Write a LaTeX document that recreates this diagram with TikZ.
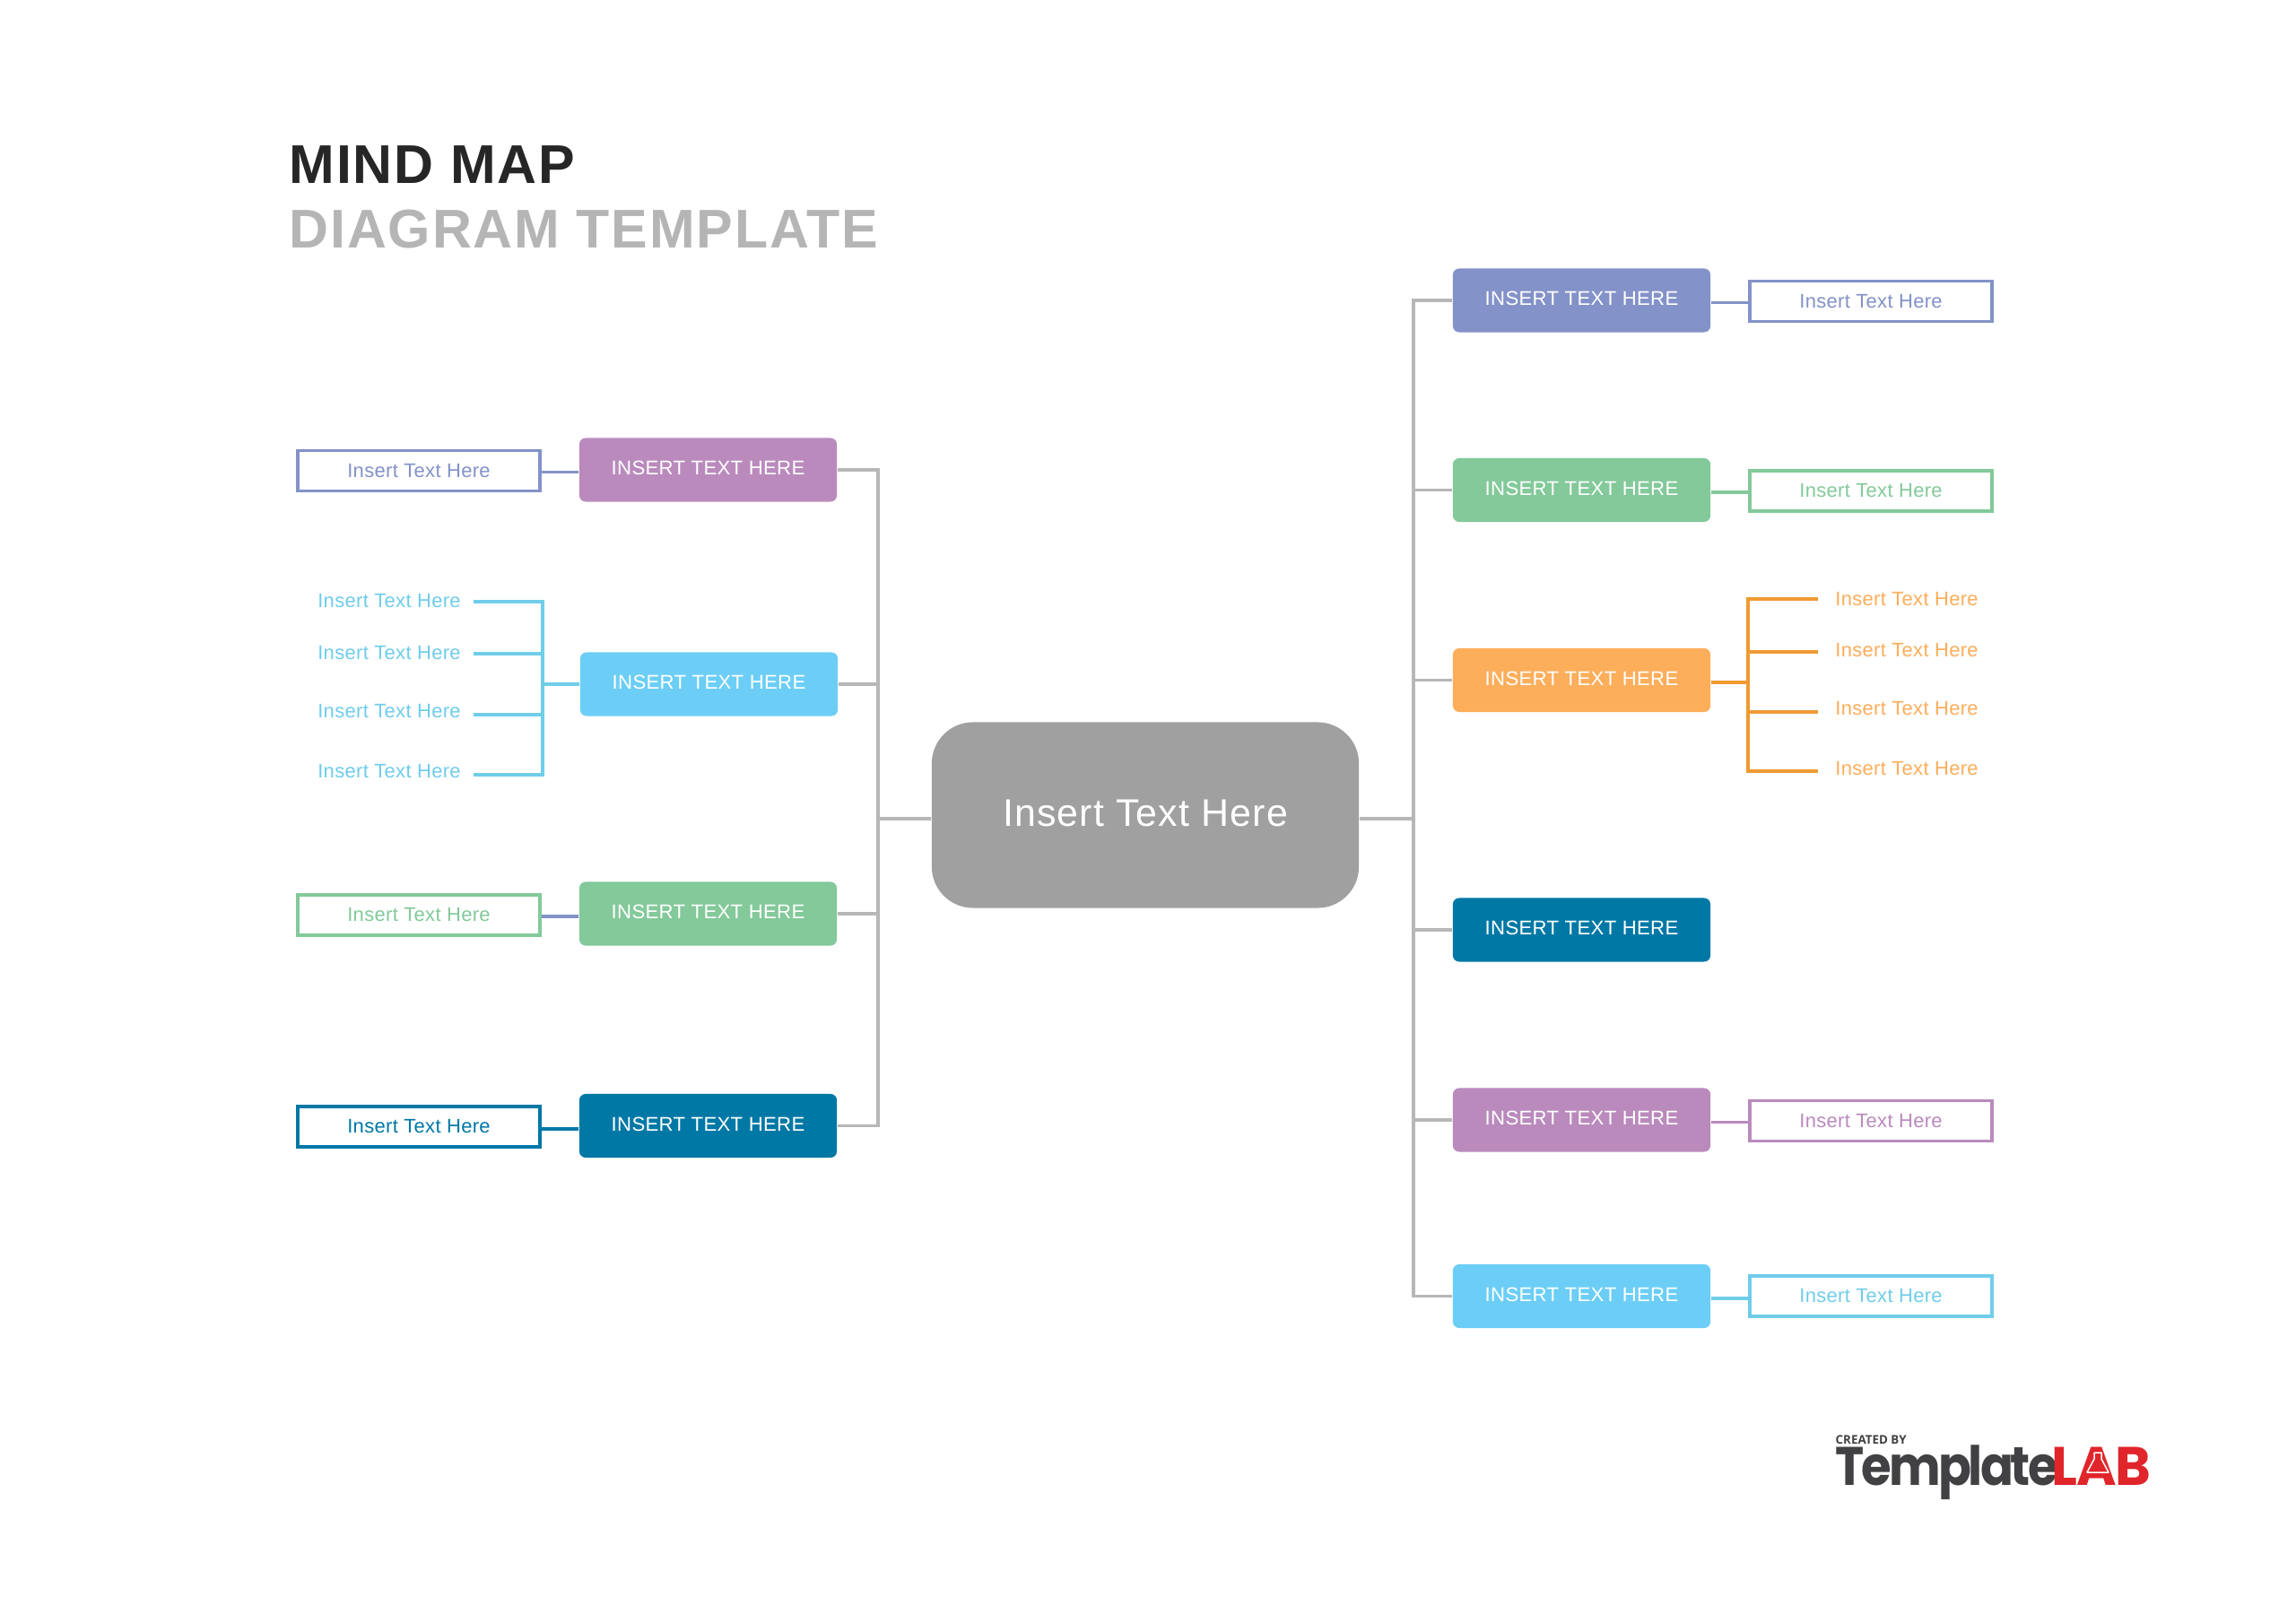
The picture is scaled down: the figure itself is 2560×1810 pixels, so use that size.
\documentclass[tikz,border=0pt]{standalone}
\usepackage{fontspec}
\setmainfont{Liberation Sans}
\newfontfamily\titlefont[LetterSpace=3.0]{Liberation Sans}
\newfontfamily\centerfont[LetterSpace=2.7]{Liberation Sans}
\newfontfamily\leaffont[LetterSpace=1.5]{Liberation Sans}
\newfontfamily\logofont[LetterSpace=-5,FakeStretch=0.9]{Poppins}
\newfontfamily\logored[LetterSpace=-2]{Poppins}
\newfontfamily\logosmall{Open Sans}
\definecolor{cpurple}{HTML}{BA8ABD}
\definecolor{cperi}{HTML}{8392C8}
\definecolor{cgreen}{HTML}{83C99A}
\definecolor{corange}{HTML}{FDAE5B}
\definecolor{cteal}{HTML}{0078A6}
\definecolor{csky}{HTML}{6CCEF6}
\definecolor{cskyline}{HTML}{70CDEA}
\definecolor{corangeline}{HTML}{EF9A33}
\definecolor{cgrey}{HTML}{A0A0A0}
\definecolor{cline}{HTML}{B7B7B7}
\definecolor{ctitle}{HTML}{262626}
\definecolor{csub}{HTML}{B5B5B5}
\definecolor{clogo}{HTML}{414042}
\definecolor{cred}{HTML}{E0252B}
% 1 unit = 1 reference pixel; font sizes given in points (1px = 0.2845pt)
\newcommand{\boxtxt}[1]{\raisebox{1.1pt}{#1}}
\tikzset{
  mapbox/.style={fill=#1,rounded corners=0.07cm,minimum width=2.87cm,minimum height=0.71cm,inner sep=0pt,
    text=white,font=\leaffont\fontsize{6.3pt}{7pt}\selectfont},
  leafbox/.style={draw=#1,line width=0.033cm,fill=white,minimum width=2.70cm,minimum height=0.45cm,inner sep=0pt,
    text=#1,font=\leaffont\fontsize{6.25pt}{7pt}\selectfont},
  leaftext/.style={text=#1,inner sep=0pt,font=\leaffont\fontsize{6.25pt}{7pt}\selectfont},
  trunk/.style={draw=cline,line width=0.033cm},
  link/.style={draw=#1,line width=0.033cm},
}
\begin{document}
\begin{tikzpicture}[x=0.01cm,y=-0.01cm]
\useasboundingbox (0,0) rectangle (2560,1810);
\fill[white] (0,0) rectangle (2560,1810);
% title
\node (t1) [anchor=base west,inner sep=0pt,text=ctitle,font=\titlefont\bfseries\fontsize{17.3pt}{20pt}\selectfont] at (322,204.6) {MIND MAP};
\node (t2) [anchor=base west,inner sep=0pt,text=csub,font=\titlefont\bfseries\fontsize{17.3pt}{20pt}\selectfont] at (322,277) {DIAGRAM TEMPLATE};
% centre
\node (c) [fill=cgrey,rounded corners=0.46cm,minimum width=4.76cm,minimum height=2.07cm,inner sep=0pt,text=white,font=\centerfont\fontsize{12.2pt}{14pt}\selectfont] at (1277,909) {\raisebox{1.5pt}{Insert Text Here}};
% left side
\node (l1) [mapbox=cpurple] at (789.5,524) {\boxtxt{INSERT TEXT HERE}};
\node (l2) [mapbox=csky] at (790.5,763) {\boxtxt{INSERT TEXT HERE}};
\node (l3) [mapbox=cgreen] at (789.5,1019) {\boxtxt{INSERT TEXT HERE}};
\node (l4) [mapbox=cteal] at (789.5,1255.5) {\boxtxt{INSERT TEXT HERE}};
\node (ll1) [leafbox=cperi] at (467,525) {Insert Text Here};
\node (ll3) [leafbox=cgreen] at (467,1020.5) {Insert Text Here};
\node (ll4) [leafbox=cteal] at (467,1256.5) {Insert Text Here};
\node (s1) [leaftext=cskyline] at (434,670) {Insert Text Here};
\node (s2) [leaftext=cskyline] at (434,728) {Insert Text Here};
\node (s3) [leaftext=cskyline] at (434,793) {Insert Text Here};
\node (s4) [leaftext=cskyline] at (434,860) {Insert Text Here};
% right side
\node (r1) [mapbox=cperi] at (1763.5,335) {\boxtxt{INSERT TEXT HERE}};
\node (r2) [mapbox=cgreen] at (1763.5,546.5) {\boxtxt{INSERT TEXT HERE}};
\node (r3) [mapbox=corange] at (1763.5,758.5) {\boxtxt{INSERT TEXT HERE}};
\node (r4) [mapbox=cteal] at (1763.5,1037) {\boxtxt{INSERT TEXT HERE}};
\node (r5) [mapbox=cpurple] at (1763.5,1249) {\boxtxt{INSERT TEXT HERE}};
\node (r6) [mapbox=csky] at (1763.5,1445.5) {\boxtxt{INSERT TEXT HERE}};
\node (rl1) [leafbox=cperi] at (2086,336) {Insert Text Here};
\node (rl2) [leafbox=cgreen] at (2086,547.5) {Insert Text Here};
\node (rl5) [leafbox=cpurple] at (2086,1250) {Insert Text Here};
\node (rl6) [leafbox=cskyline] at (2086,1445.5) {Insert Text Here};
\node (o1) [leaftext=corange] at (2126,668) {Insert Text Here};
\node (o2) [leaftext=corange] at (2126,725) {Insert Text Here};
\node (o3) [leaftext=corange] at (2126,790) {Insert Text Here};
\node (o4) [leaftext=corange] at (2126,857) {Insert Text Here};
% trunks
\coordinate (TL) at (979,913);
\coordinate (TR) at (1576,913);
\draw[trunk] (TL) -- (TL -| c.west);
\draw[trunk] (TR) -- (TR -| c.east);
\foreach \n in {l1,l2,l3,l4} \draw[trunk] (\n.east) -| (TL);
\foreach \n in {r1,r2,r3,r4,r5,r6} \draw[trunk] (\n.west) -| (TR);
% leaf links
\draw[link=cperi] ([yshift=-0.025cm]l1.west) -- ([yshift=-0.025cm]l1.west -| ll1.east);
\draw[link=cperi] ([yshift=-0.03cm]l3.west) -- ([yshift=-0.03cm]l3.west -| ll3.east);
\draw[link=cteal] ([yshift=-0.035cm]l4.west) -- ([yshift=-0.035cm]l4.west -| ll4.east);
\draw[link=cperi] ([yshift=-0.024cm]r1.east) -- ([yshift=-0.024cm]r1.east -| rl1.west);
\draw[link=cgreen] ([yshift=-0.024cm]r2.east) -- ([yshift=-0.024cm]r2.east -| rl2.west);
\draw[link=cpurple] ([yshift=-0.024cm]r5.east) -- ([yshift=-0.024cm]r5.east -| rl5.west);
\draw[link=cskyline] ([yshift=-0.024cm]r6.east) -- ([yshift=-0.024cm]r6.east -| rl6.west);
% brackets
\coordinate (BL) at (605,764);
\coordinate (BR) at (1949,761);
\coordinate (s1e) at (528,671);
\coordinate (s2e) at (528,729);
\coordinate (s3e) at (528,797);
\coordinate (s4e) at (528,864);
\coordinate (o1e) at (2027,668);
\coordinate (o2e) at (2027,727);
\coordinate (o3e) at (2027,794);
\coordinate (o4e) at (2027,860);
\draw[link=cskyline] (l2.west) -- (l2.west -| BL);
\draw[link=cskyline] (s1e) -| (BL);
\draw[link=cskyline] (s4e) -| (BL);
\draw[link=cskyline] (s2e) -- (s2e -| BL);
\draw[link=cskyline] (s3e) -- (s3e -| BL);
\draw[link=corangeline] (BR) -- (BR -| r3.east);
\draw[link=corangeline] (o1e) -| (BR);
\draw[link=corangeline] (o4e) -| (BR);
\draw[link=corangeline] (o2e) -- (o2e -| BR);
\draw[link=corangeline] (o3e) -- (o3e -| BR);
% logo
\node (lg0) [anchor=base west,inner sep=0pt,text=clogo,font=\logosmall\bfseries\fontsize{3.8pt}{4pt}\selectfont] at (2046,1610.5) {CREATED BY};
\node (lg1) [anchor=base west,inner sep=0pt,text=clogo,font=\logofont\bfseries\fontsize{17.2pt}{20pt}\selectfont] at (2046,1656) {Template};
\node (lg2) [anchor=base west,inner sep=0pt,text=cred,font=\logored\bfseries\fontsize{17.2pt}{20pt}\selectfont] at (2287,1656) {LAB};
\draw[white,line width=0.015cm,fill=cred,line join=round] (2335,1620) -- (2343,1620) -- (2343,1627) -- (2351,1642) -- (2327,1642) -- (2335,1627) -- cycle;
\end{tikzpicture}
\end{document}
